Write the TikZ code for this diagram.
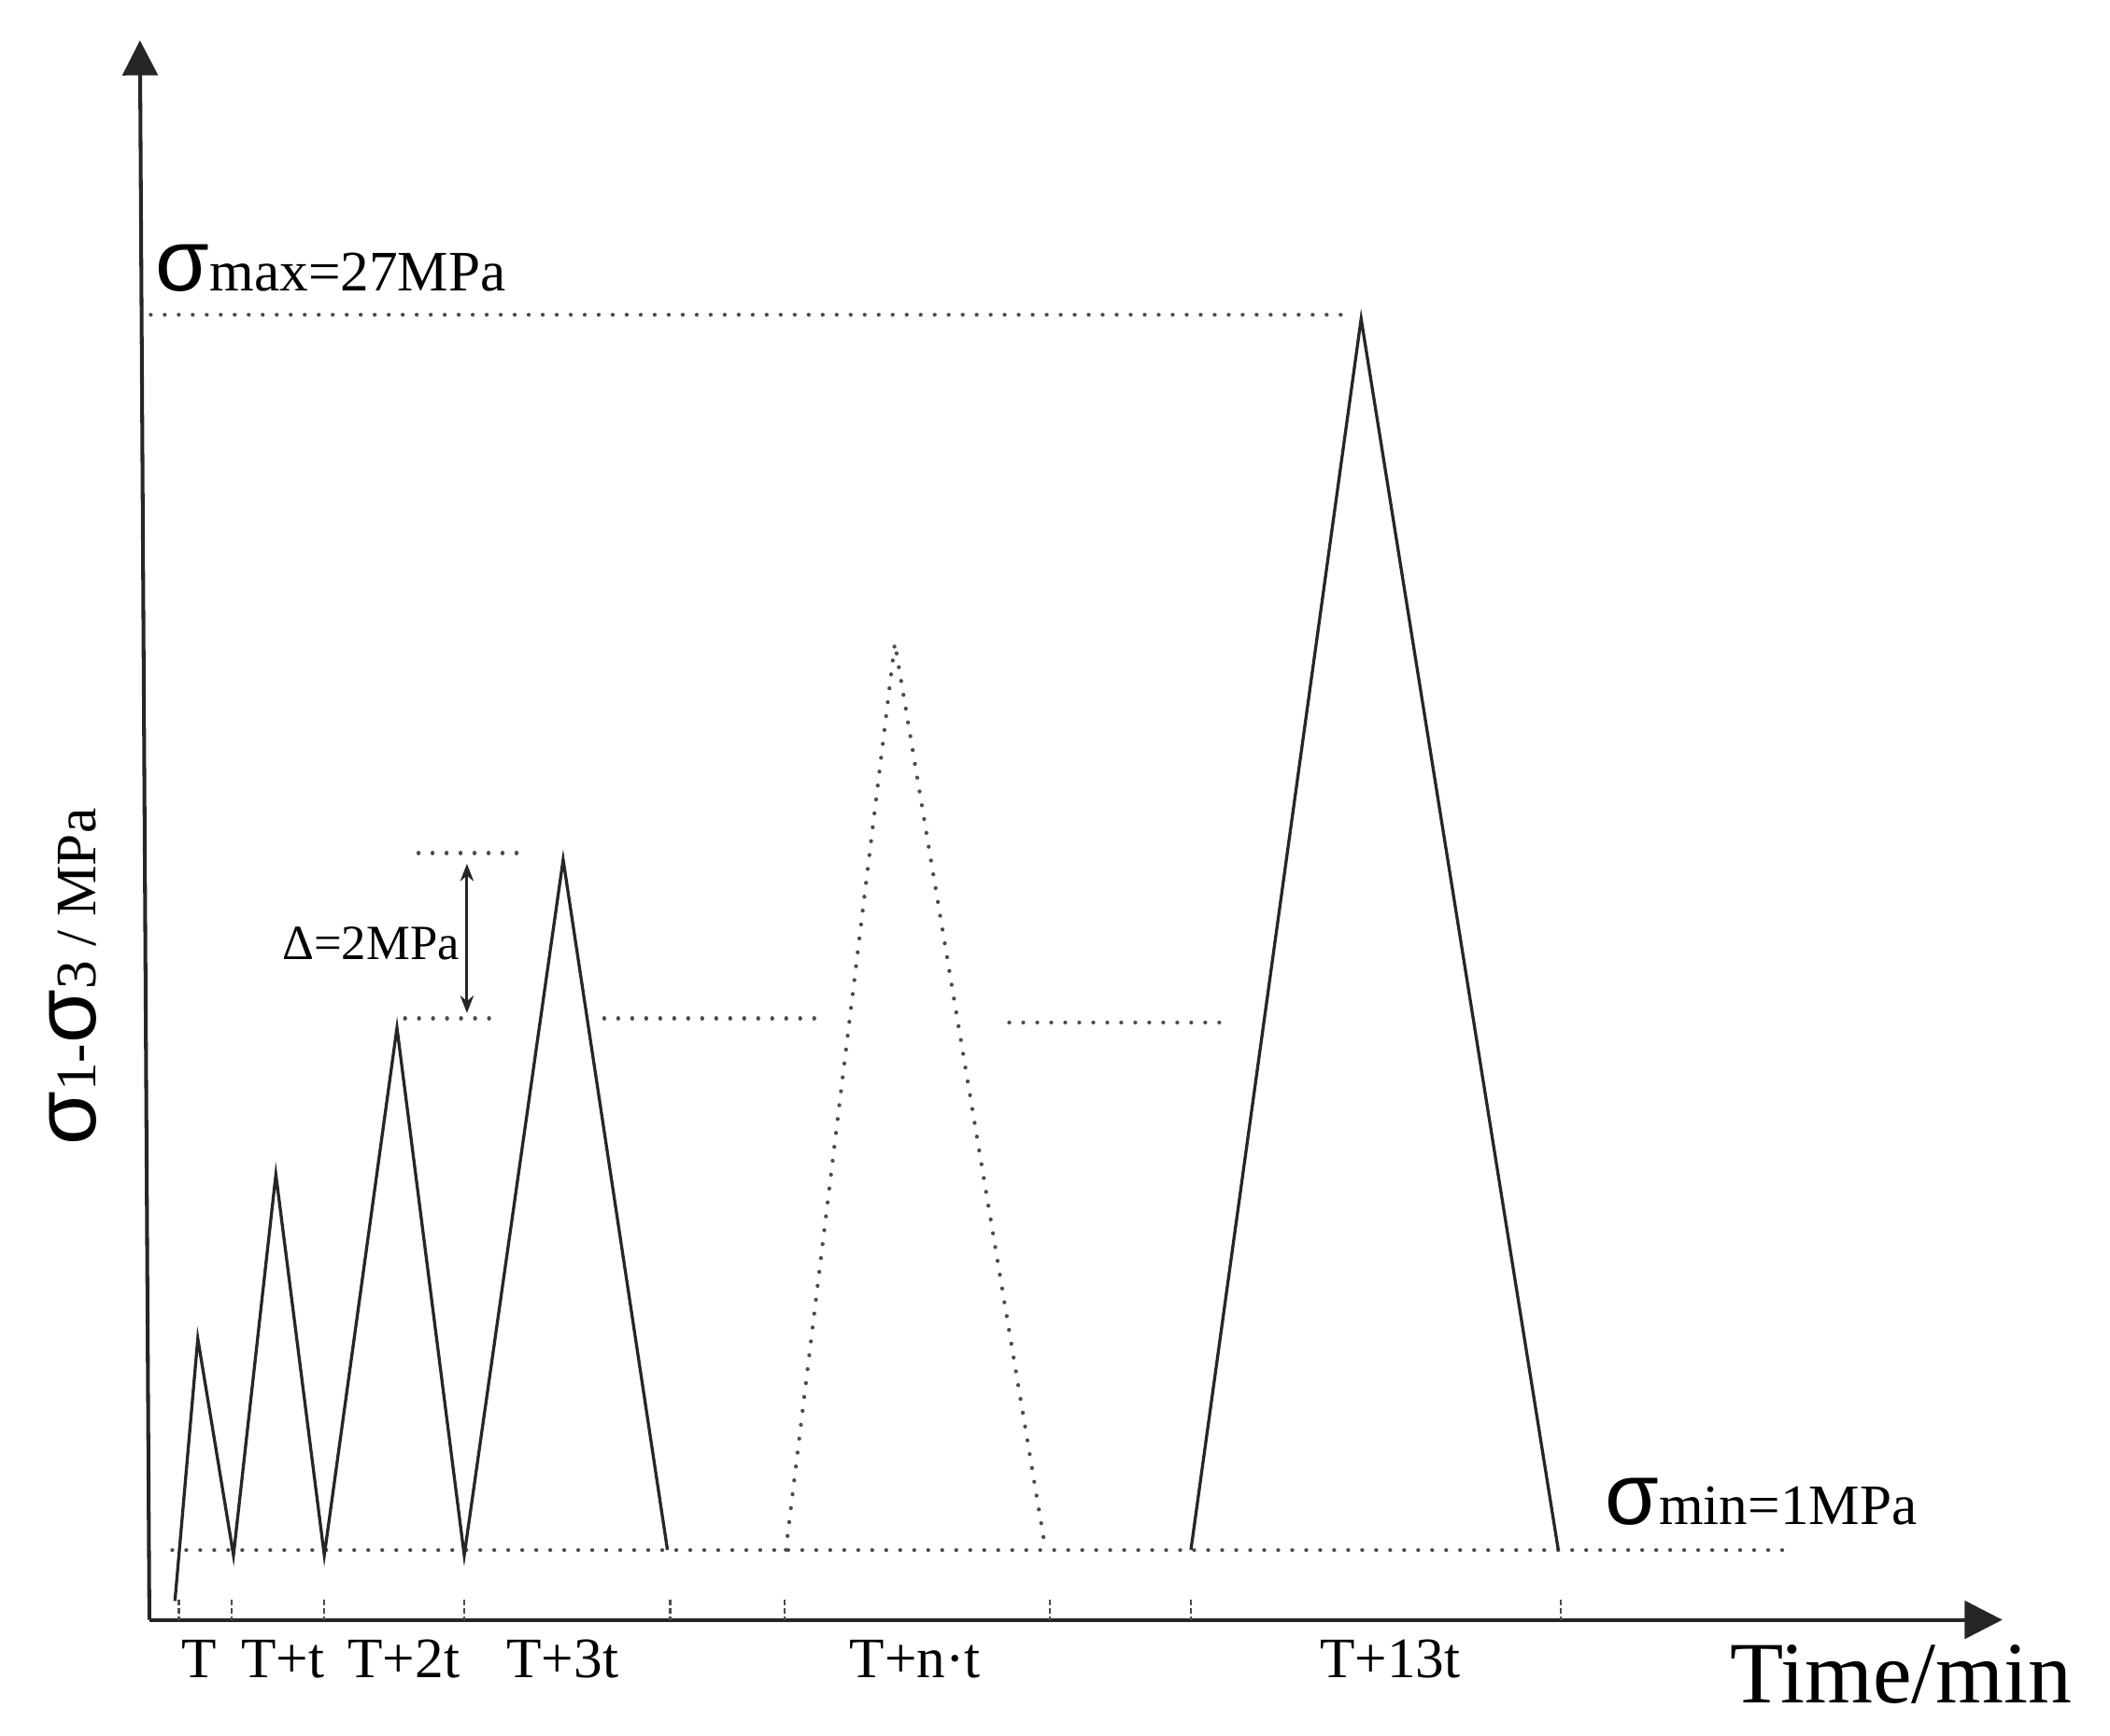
\documentclass[tikz,border=0pt]{standalone}
\usepackage{fontspec}
\setmainfont{Liberation Serif}
\newfontfamily\sigfont{Liberation Sans}
\usetikzlibrary{arrows.meta}
\newcommand\bigsig{{\sigfont\fontsize{18.5pt}{20pt}\selectfont σ}}
\newcommand\labsize{\fontsize{12.1pt}{14pt}\selectfont}
\begin{document}
\begin{tikzpicture}[x=0.1mm,y=-0.1mm,
  curve/.style={line width=0.65pt, black!85},
  dots/.style={line width=0.85pt, black!70, dash pattern=on 0.01pt off 2.95pt, line cap=round},
  axis/.style={line width=0.8pt, black!85},
  tickmark/.style={line width=0.45pt, black!70, dash pattern=on 1.2pt off 0.6pt},
  lab/.style={inner sep=0pt, font=\labsize},
  ]
\useasboundingbox[fill=white] (0,0) rectangle (1568,1290);

% axes
\coordinate (O) at (111,1204);
\coordinate (Ytop) at (104,30);
\coordinate (Xend) at (1488,1204);
\draw[axis,-{Triangle[length=2.6mm,width=2.6mm]}] (O) -- (Ytop);
\draw[axis,-{Triangle[length=2.8mm,width=2.8mm]}] (O) -- (Xend);

% ticks
\foreach \x in {133,172,241,345,498,583,780,885,1160}
  \draw[tickmark] (\x,1189) -- (\x,1204);

% reference dotted lines
\coordinate (minA) at (128,1152); \coordinate (minB) at (1333,1152);
\draw[dots] (minA) -- (minB);
\coordinate (maxA) at (112,234); \coordinate (maxB) at (1000,234);
\draw[dots] (maxA) -- (maxB);
\coordinate (dUa) at (311,634); \coordinate (dUb) at (387,634);
\draw[dots] (dUa) -- (dUb);
\coordinate (dLa) at (301,757); \coordinate (dLb) at (366,757);
\draw[dots] (dLa) -- (dLb);
\coordinate (mLa) at (449,757); \coordinate (mLb) at (610,757);
\draw[dots] (mLa) -- (mLb);
\coordinate (rLa) at (750,760); \coordinate (rLb) at (912,760);
\draw[dots] (rLa) -- (rLb);

% loading curve
\coordinate (s0) at (130,1190);
\coordinate (p1) at (147,995);
\coordinate (v1) at (173.5,1156);
\coordinate (p2) at (205,873);
\coordinate (v2) at (241,1156);
\coordinate (p3) at (295,764);
\coordinate (v3) at (345,1156);
\coordinate (p4) at (418.5,639);
\coordinate (v4) at (496,1152);
\draw[curve] (s0) -- (p1) -- (v1) -- (p2) -- (v2) -- (p3) -- (v3) -- (p4) -- (v4);

\coordinate (nA) at (584,1152);
\coordinate (nP) at (665,478);
\coordinate (nB) at (777,1152);
\draw[dots] (nA) -- (nP) -- (nB);

\coordinate (bA) at (885,1152);
\coordinate (bP) at (1011.5,237);
\coordinate (bB) at (1158,1152);
\draw[curve] (bA) -- (bP) -- (bB);

% Delta arrow
\coordinate (dTop) at (347,642);
\coordinate (dBot) at (347,753);
\draw[line width=0.6pt, black!85, {Stealth[length=1.3mm,width=1mm]}-{Stealth[length=1.3mm,width=1mm]}] (dTop) -- (dBot);
\node[inner sep=0pt, anchor=base east, font=\fontsize{10.4pt}{12pt}\selectfont] (dlab) at (342,713) {Δ=2MPa};

% labels
\node[lab, anchor=base west] (smax) at (115,216) {\bigsig max=27MPa};
\node[lab, anchor=base west] (smin) at (1192,1133) {\bigsig min=1MPa};
\node[lab, anchor=base] (l0) at (148,1247) {T};
\node[lab, anchor=base] (l1) at (210,1247) {T+t};
\node[lab, anchor=base] (l2) at (300,1247) {T+2t};
\node[lab, anchor=base] (l3) at (418,1247) {T+3t};
\node[lab, anchor=base] (ln) at (680,1247) {T+n·t};
\node[lab, anchor=base] (l13) at (1033,1247) {T+13t};
\node[inner sep=0pt, anchor=base west, font=\fontsize{18.5pt}{20pt}\selectfont] (tl) at (1285,1266) {Time/min};
\node[lab, rotate=90, anchor=base west] (yl) at (71,852) {\bigsig 1-\bigsig 3 / MPa};
\end{tikzpicture}
\end{document}
